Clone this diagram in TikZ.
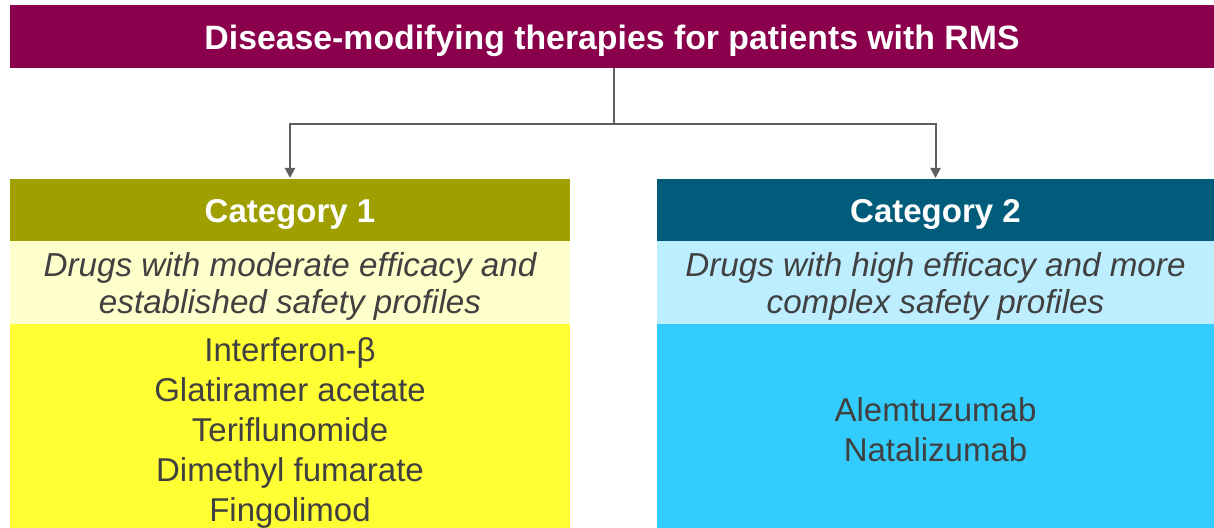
\documentclass[tikz,border=0pt]{standalone}
\usepackage{fontspec}
\setmainfont{Liberation Sans}
\usetikzlibrary{arrows.meta}

\definecolor{rmsplum}{HTML}{8A004C}
\definecolor{catolive}{HTML}{9FA000}
\definecolor{catpale}{HTML}{FFFFCC}
\definecolor{catyellow}{HTML}{FFFF33}
\definecolor{catteal}{HTML}{005C7A}
\definecolor{catice}{HTML}{BDEEFF}
\definecolor{catsky}{HTML}{33CCFF}
\definecolor{inkgray}{HTML}{404040}
\definecolor{linkgray}{HTML}{5F5F5F}

\tikzset{
  box/.style={rectangle,inner sep=0pt,outer sep=0pt},
  txt/.style={inner sep=0pt,align=center,font=\fontsize{16.5}{20}\selectfont},
  headtxt/.style={txt,text=white,font=\fontsize{16.5}{20}\selectfont\bfseries},
  notetxt/.style={txt,text=inkgray,font=\fontsize{16.6}{18.5}\selectfont\itshape},
  drugtxt/.style={txt,text=inkgray},
  link/.style={draw=linkgray,line width=1pt},
}

\begin{document}
\begin{tikzpicture}[x=0.5pt,y=-0.5pt]
\useasboundingbox (0,0) rectangle (1214,528);

% title bar
\node[box,fill=rmsplum,minimum width=602pt,minimum height=31.5pt] (title) at (612,36.5) {};
\node[headtxt,font=\fontsize{16.9}{20}\selectfont\bfseries] (titletxt) at ([yshift=-2pt]title.center)
  {Disease-modifying therapies for patients with RMS};

% category 1
\node[box,fill=catolive,minimum width=280pt,minimum height=31pt] (cat1) at (290,210) {};
\node[headtxt] (cat1txt) at ([yshift=-2.3pt]cat1.center) {Category 1};
\node[box,fill=catpale,minimum width=280pt,minimum height=41.5pt] (note1) at (290,282.5) {};
\node[notetxt] (note1txt) at ([yshift=-2pt]note1.center)
  {Drugs with moderate efficacy and\\established safety profiles};
\node[box,fill=catyellow,minimum width=280pt,minimum height=102pt] (drug1) at (290,426) {};
\node[drugtxt] (drug1txt) at ([yshift=-3.5pt]drug1.center)
  {Interferon-β\\Glatiramer acetate\\Teriflunomide\\Dimethyl fumarate\\Fingolimod};

% category 2
\node[box,fill=catteal,minimum width=278.5pt,minimum height=31pt] (cat2) at (935.5,210) {};
\node[headtxt] (cat2txt) at ([yshift=-2.3pt]cat2.center) {Category 2};
\node[box,fill=catice,minimum width=278.5pt,minimum height=41.5pt] (note2) at (935.5,282.5) {};
\node[notetxt] (note2txt) at ([yshift=-2pt]note2.center)
  {Drugs with high efficacy and more\\complex safety profiles};
\node[box,fill=catsky,minimum width=278.5pt,minimum height=102pt] (drug2) at (935.5,426) {};
\node[drugtxt] (drug2txt) at ([yshift=-2pt]drug2.center)
  {Alemtuzumab\\Natalizumab};

% connectors
\coordinate (split) at (614,124);
\draw[link] (title.south -| split) -- (split);
\draw[link,-{Triangle[length=5pt,width=5pt]}] (split) -| ([yshift=0.5pt]cat1.north);
\draw[link,-{Triangle[length=5pt,width=5pt]}] (split) -| ([yshift=0.5pt]cat2.north);

\end{tikzpicture}
\end{document}
